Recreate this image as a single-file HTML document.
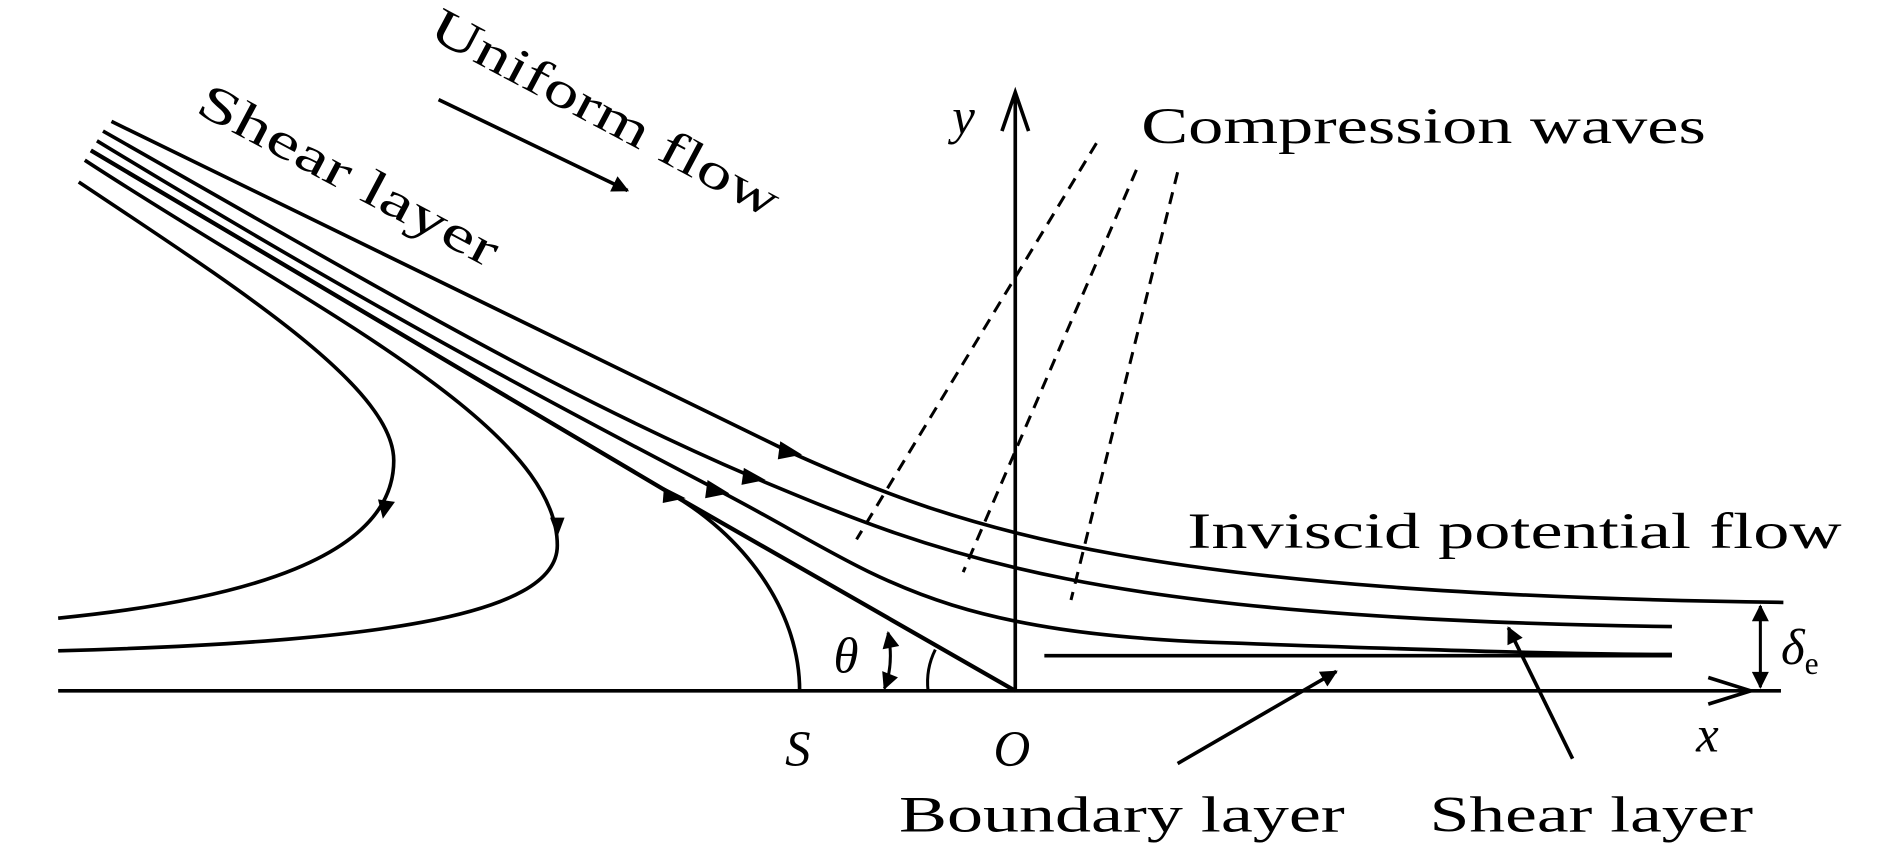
<!DOCTYPE html>
<html><head><meta charset="utf-8"><style>html,body{margin:0;padding:0;background:#fff}svg{display:block}</style></head>
<body>
<svg width="1890" height="851" viewBox="0 0 1560 702" xmlns="http://www.w3.org/2000/svg" font-family="'Liberation Serif', serif" font-size="42">
<defs>
<marker id="a2" viewBox="0 0 10 10" refX="9" refY="5" markerWidth="22" markerHeight="14" orient="auto-start-reverse" markerUnits="userSpaceOnUse"><path d="M0,0 L10,5 L0,10 z"/></marker>
</defs>
<g fill="none" stroke="#000" stroke-width="3">
<line x1="48" y1="570" x2="1470" y2="570"/>
<path d="M1410,559 L1445,570 L1410,581" />
<line x1="838" y1="570" x2="838" y2="78"/>
<path d="M827,108 L838,76 L849,108"/>
<g stroke-dasharray="10,7" stroke-width="2.5">
<line x1="905" y1="118" x2="707" y2="445"/>
<line x1="938" y1="140" x2="795" y2="472"/>
<line x1="972" y1="142" x2="884" y2="495"/>
</g>
<path d="M92,100 C300,200 500,300 650,372 C800,440 950,490 1472,497"/>
<path d="M85,108 C300,230 450,320 620,393 C780,460 900,510 1380,517"/>
<path d="M80,116 C300,250 450,330 590,403 C720,470 760,520 1000,530 C1200,537 1300,540 1380,540"/>
<path d="M75,124 L555,408 L838,570" stroke-width="3.5"/>
<path d="M75,124 L555,408 C610,440 660,500 660,570"/>
<path d="M70,132 C250,250 460,350 460,450 C460,510 300,530 48,537"/>
<path d="M65,150 C200,240 325,320 325,380 C325,460 200,495 48,510"/>
<line x1="862" y1="541" x2="1380" y2="541"/>
<path d="M733,522 Q738,548 730,568" marker-start="url(#a2)" marker-end="url(#a2)" stroke-width="2.5"/>
<path d="M772,536 Q764,552 766,570" stroke-width="2.5"/>
<line x1="1453" y1="500" x2="1453" y2="567" marker-start="url(#a2)" marker-end="url(#a2)" stroke-width="2.5"/>
<line x1="362" y1="82" x2="518" y2="157" marker-end="url(#a2)"/>
<line x1="972" y1="630" x2="1103" y2="554" marker-end="url(#a2)"/>
<line x1="1298" y1="626" x2="1245" y2="518" marker-end="url(#a2)"/>
</g>
<g fill="#000">
<path d="M644,364 L662,375 L642,379 z"/>
<path d="M614,386 L632,396 L612,400 z"/>
<path d="M584,396 L602,407 L582,411 z"/>
<path d="M548,402 L566,411 L547,415 z"/>
<path d="M454,427 L460,443 L466,427 z"/>
<path d="M312,412 L316,428 L326,414 z"/>
</g>
<g fill="#000">
<text x="942" y="118" textLength="466" lengthAdjust="spacingAndGlyphs">Compression waves</text>
<text x="980" y="452" textLength="540" lengthAdjust="spacingAndGlyphs">Inviscid potential flow</text>
<text x="742" y="686" textLength="368" lengthAdjust="spacingAndGlyphs">Boundary layer</text>
<text x="1180" y="686" textLength="267" lengthAdjust="spacingAndGlyphs">Shear layer</text>
<text x="352" y="30" transform="rotate(28 352 30)" textLength="320" lengthAdjust="spacingAndGlyphs">Uniform flow</text>
<text x="160" y="92" transform="rotate(28 160 92)" textLength="275" lengthAdjust="spacingAndGlyphs">Shear layer</text>
<text x="786" y="110" font-style="italic">y</text>
<text x="1400" y="620" font-style="italic">x</text>
<text x="648" y="632" font-style="italic">S</text>
<text x="820" y="632" font-style="italic">O</text>
<text x="688" y="555" font-style="italic">θ</text>
<text x="1470" y="548" font-style="italic">δ<tspan font-style="normal" font-size="26" dy="8">e</tspan></text>
</g>
</svg>
</body></html>
